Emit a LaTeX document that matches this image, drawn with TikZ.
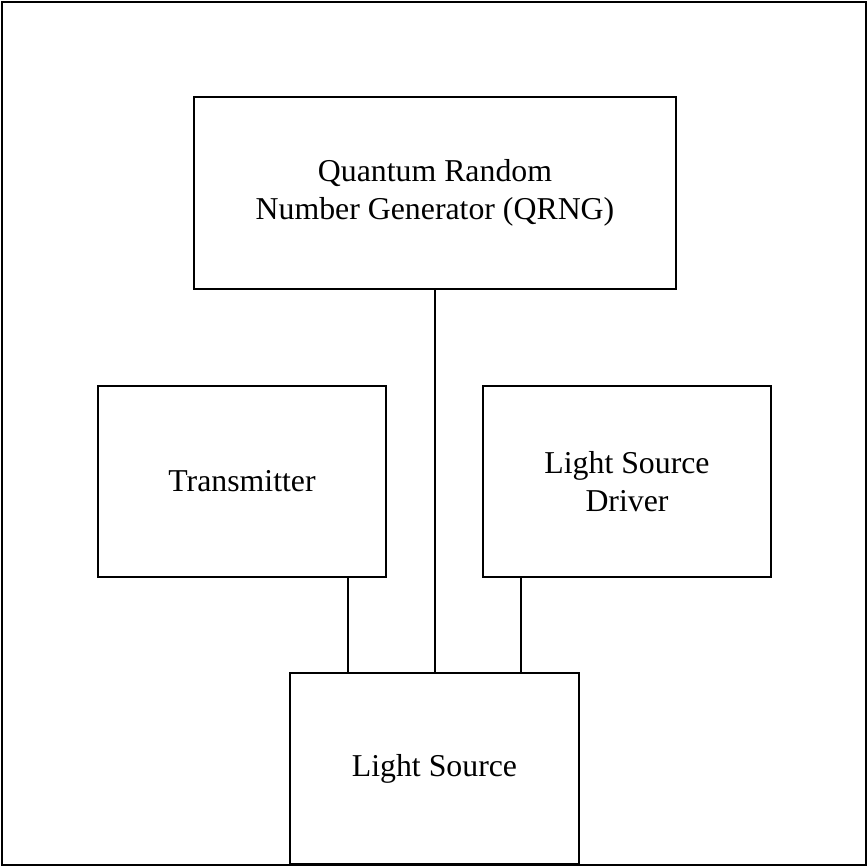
\documentclass[tikz,border=0pt]{standalone}
\usepackage{fontspec}
\setmainfont{Liberation Serif}
\begin{document}
\begin{tikzpicture}[x=1pt,y=-1pt,
  blk/.style={draw=black, line width=2pt, rectangle, inner sep=0pt, outer sep=0pt,
    align=center, font=\fontsize{31.8}{38.5}\selectfont},
  conn/.style={draw=black, line width=1.8pt}]
\useasboundingbox (0,0) rectangle (868,867);
\fill[white] (0,0) rectangle (868,867);
\draw[line width=2.2pt] (2,2) rectangle (866,865);
\node[blk, minimum width=482pt, minimum height=192pt] (qrng) at (435,193) {Quantum Random\\Number Generator (QRNG)};
\node[blk, minimum width=288pt, minimum height=191pt] (trans) at (242,481.5) {Transmitter};
\node[blk, minimum width=288pt, minimum height=191pt] (drv) at (627,481.5) {Light Source\\Driver};
\node[blk, minimum width=289pt, minimum height=191pt] (ls) at (434.5,768.5) {Light Source};
\coordinate (c1) at (348,0);
\coordinate (c2) at (434.7,0);
\coordinate (c3) at (520.7,0);
\draw[conn] (trans.south -| c1) -- (ls.north -| c1);
\draw[conn] (qrng.south -| c2) -- (ls.north -| c2);
\draw[conn] (drv.south -| c3) -- (ls.north -| c3);
\end{tikzpicture}
\end{document}
